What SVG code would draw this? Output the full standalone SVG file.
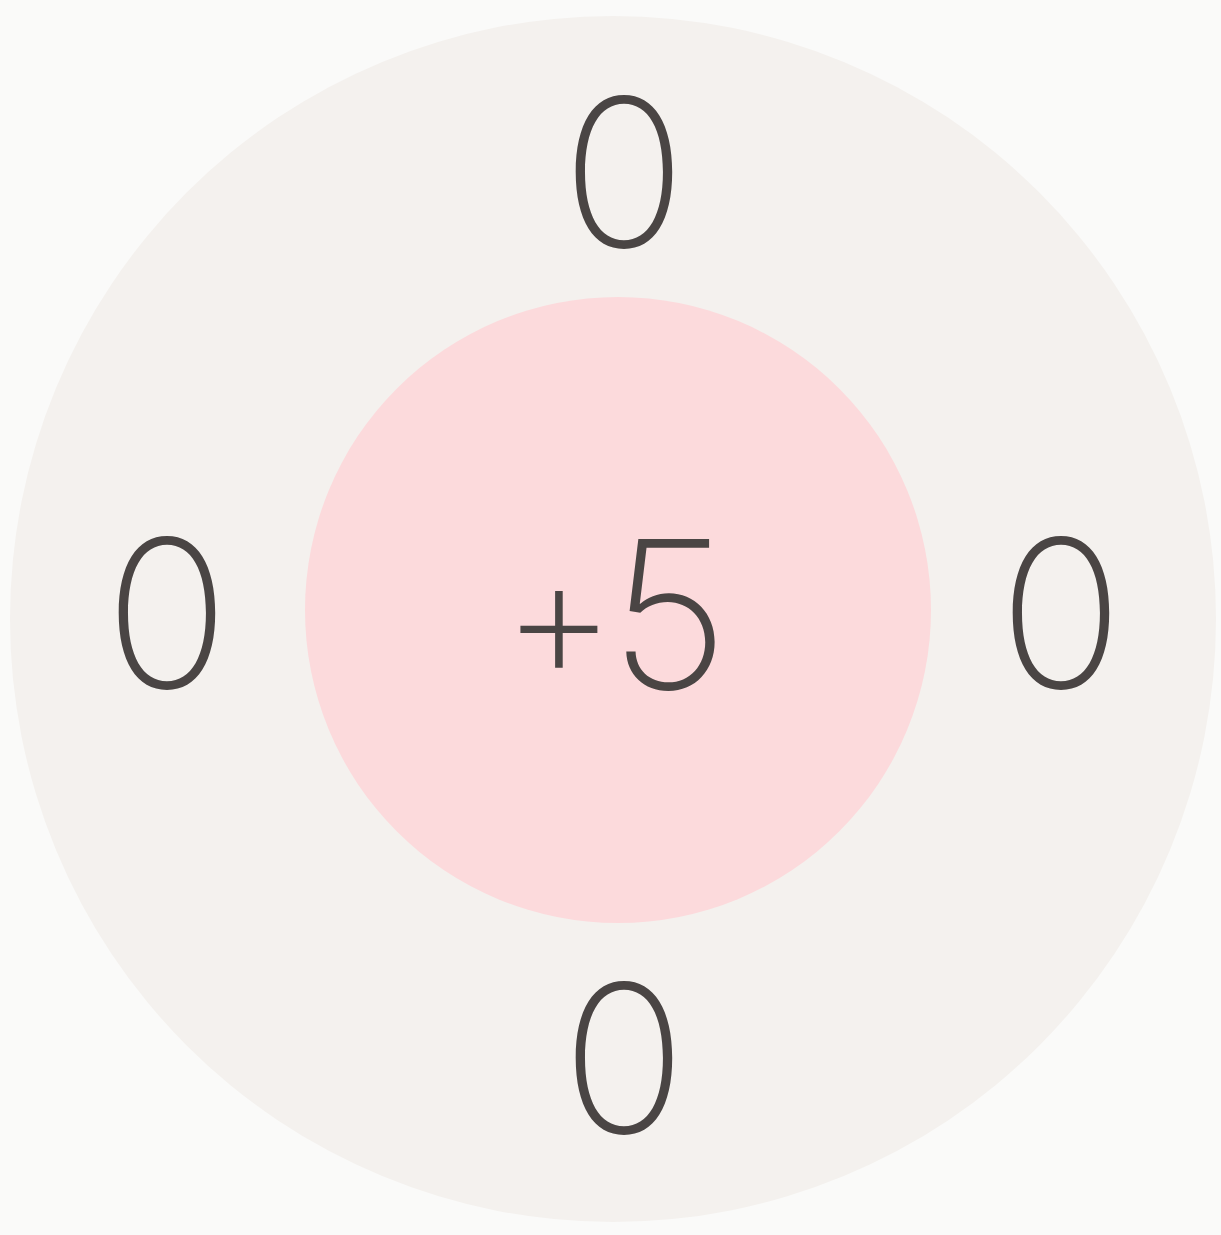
<svg xmlns="http://www.w3.org/2000/svg" width="1221" height="1235" viewBox="0 0 1221 1235">
<style>
.num{font-family:Inter,"Lato","Liberation Sans",sans-serif;font-weight:200;font-size:206px;fill:#4a4544;text-anchor:middle}
.plus{font-size:178px}
</style>
<rect width="1221" height="1235" fill="#fafaf9"/>
<g id="outer"><circle cx="613" cy="619" r="603" fill="#f4f1ee"/></g>
<g id="center"><circle cx="618" cy="610" r="313" fill="#fcdadc"/>
<text class="num" x="617" y="689"><tspan class="plus" x="559" y="680">+</tspan><tspan x="669" y="689">5</tspan></text></g>
<g id="top"><text class="num" x="624" y="247">0</text></g>
<g id="left"><text class="num" x="167" y="688">0</text></g>
<g id="right"><text class="num" x="1061" y="688">0</text></g>
<g id="bottom"><text class="num" x="624" y="1133">0</text></g>
<g id="connectors"/>
</svg>
